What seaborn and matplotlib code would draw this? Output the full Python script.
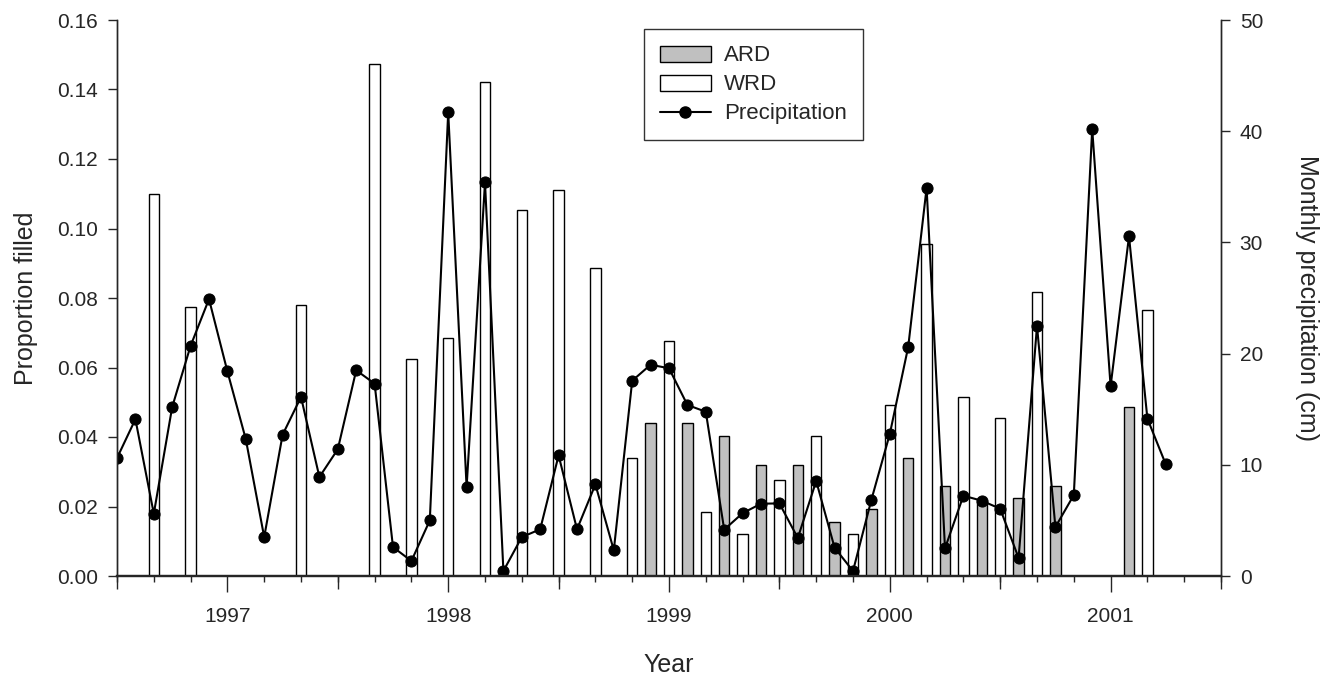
import pandas as pd
import matplotlib.pyplot as plt
import matplotlib.ticker as mticker
from matplotlib.patches import Patch
from matplotlib.lines import Line2D
import seaborn as sns

# -----------------------------
# Data
# -----------------------------
precip_start = '1996-07'   # monthly series, Jul 1996 .. Apr 2001
precip_cm = [10.6, 14.1, 5.6, 15.2, 20.7, 24.9,
             18.4, 12.3, 3.5, 12.7, 16.1, 8.9, 11.4, 18.5, 17.3, 2.6, 1.35, 5.0,
             41.7, 8.0, 35.4, 0.45, 3.5, 4.2, 10.85, 4.2, 8.24, 2.31, 17.56, 19.0,
             18.68, 15.38, 14.77, 4.17, 5.65, 6.5, 6.53, 3.42, 8.54, 2.54, 0.45, 6.86,
             12.77, 20.6, 34.9, 2.49, 7.22, 6.77, 6.05, 1.62, 22.5, 4.4, 7.28, 40.2,
             17.06, 30.55, 14.15, 10.04]

wrd_months = ['1996-09', '1996-11', '1997-05', '1997-09', '1997-11', '1998-01',
              '1998-03', '1998-05', '1998-07', '1998-09', '1998-11', '1999-01',
              '1999-03', '1999-05', '1999-07', '1999-09', '1999-11', '2000-01',
              '2000-03', '2000-05', '2000-07', '2000-09', '2001-03']
wrd_prop = [0.110, 0.0773, 0.0779, 0.1473, 0.0624, 0.0685,
            0.1422, 0.1052, 0.1111, 0.0885, 0.0339, 0.0677,
            0.0183, 0.0122, 0.0275, 0.0402, 0.0122, 0.0491,
            0.0955, 0.0514, 0.0455, 0.0816, 0.0765]

ard_months = ['1998-12', '1999-02', '1999-04', '1999-06', '1999-08', '1999-10',
              '1999-12', '2000-02', '2000-04', '2000-06', '2000-08', '2000-10',
              '2001-02']
ard_prop = [0.0441, 0.0441, 0.0402, 0.0319, 0.0319, 0.0155,
            0.0192, 0.034, 0.026, 0.0215, 0.0224, 0.026,
            0.0485]

year_ticks = [1997, 1998, 1999, 2000, 2001]


def to_year(dates):
    d = pd.to_datetime(pd.Series(dates))
    return d.dt.year + (d.dt.month - 1) / 12


precip_dates = pd.date_range(precip_start, periods=len(precip_cm), freq='MS')
precip_df = pd.DataFrame({'t': to_year(precip_dates), 'cm': precip_cm})

bars_df = pd.concat([
    pd.DataFrame({'t': to_year(ard_months), 'prop': ard_prop, 'site': 'ARD'}),
    pd.DataFrame({'t': to_year(wrd_months), 'prop': wrd_prop, 'site': 'WRD'}),
], ignore_index=True)

# -----------------------------
# Style
# -----------------------------
sns.set_style('ticks')
plt.rcParams['font.family'] = ['Liberation Sans', 'DejaVu Sans']

fig = plt.figure(figsize=(13.41, 6.77), dpi=100)
ax = fig.add_axes([117 / 1341, 101 / 677, 1104 / 1341, 556 / 677])

# bars (left axis)
sns.barplot(data=bars_df, x='t', y='prop', hue='site', hue_order=['ARD', 'WRD'],
            palette={'ARD': '#c0c0c0', 'WRD': 'white'}, native_scale=True,
            dodge=False, width=0.56, saturation=1, edgecolor='black',
            linewidth=1, errorbar=None, legend=False, ax=ax)

# precipitation (right axis)
ax2 = ax.twinx()
sns.lineplot(data=precip_df, x='t', y='cm', ax=ax2, color='black',
             marker='o', markersize=8, markeredgecolor='black',
             linewidth=1.5, legend=False)

# -----------------------------
# Axes
# -----------------------------
ax.set_xlim(1996.5, 2001.5)
ax.set_ylim(0, 0.16)
ax2.set_ylim(0, 50)

ax.xaxis.set_major_locator(mticker.FixedLocator(year_ticks))
ax.xaxis.set_major_formatter(mticker.FuncFormatter(lambda v, p: f'{v:.0f}'))
ax.xaxis.set_minor_locator(mticker.MultipleLocator(1 / 6))
ax.set_yticks([0, 0.02, 0.04, 0.06, 0.08, 0.10, 0.12, 0.14, 0.16])
ax.yaxis.set_major_formatter(mticker.FormatStrFormatter('%.2f'))
ax2.set_yticks([0, 10, 20, 30, 40, 50])

ax.tick_params(axis='x', which='major', length=11.5, width=1, pad=11, labelsize=15)
ax.tick_params(axis='x', which='minor', length=4, width=1)
ax.tick_params(axis='y', length=6.5, width=1, pad=7, labelsize=15)
ax2.tick_params(axis='y', length=6.5, width=1, pad=7, labelsize=15)

# mid-year ticks, a bit shorter than the year ticks
sec = ax.secondary_xaxis('bottom')
sec.set_xticks([1996.5, 1997.5, 1998.5, 1999.5, 2000.5, 2001.5])
sec.set_xticklabels([])
sec.tick_params(length=9.5, width=1)
sec.spines['bottom'].set_visible(False)

for a in (ax, ax2):
    a.spines['top'].set_visible(False)
    a.spines['left'].set_linewidth(1)
    a.spines['right'].set_linewidth(1)
    a.spines['bottom'].set_linewidth(1.6)

ax.set_xlabel('Year', fontsize=18, labelpad=19)
ax.set_ylabel('Proportion filled', fontsize=18, labelpad=14)
ax2.set_ylabel('Monthly precipitation (cm)', fontsize=18, rotation=270, labelpad=40)

# -----------------------------
# Legend
# -----------------------------
handles = [
    Patch(facecolor='#c0c0c0', edgecolor='black', label='ARD'),
    Patch(facecolor='white', edgecolor='black', label='WRD'),
    Line2D([], [], color='black', marker='o', markersize=8, linewidth=1.5,
           label='Precipitation'),
]
leg = ax2.legend(handles=handles, loc='upper left', bbox_to_anchor=(0.477, 0.983),
                 frameon=True, fancybox=False, edgecolor='black', fontsize=16,
                 handlelength=2.3, handleheight=0.75, handletextpad=0.6,
                 borderpad=0.72, labelspacing=0.36, borderaxespad=0)
leg.get_frame().set_linewidth(1)

plt.savefig('out.png', dpi=100)
